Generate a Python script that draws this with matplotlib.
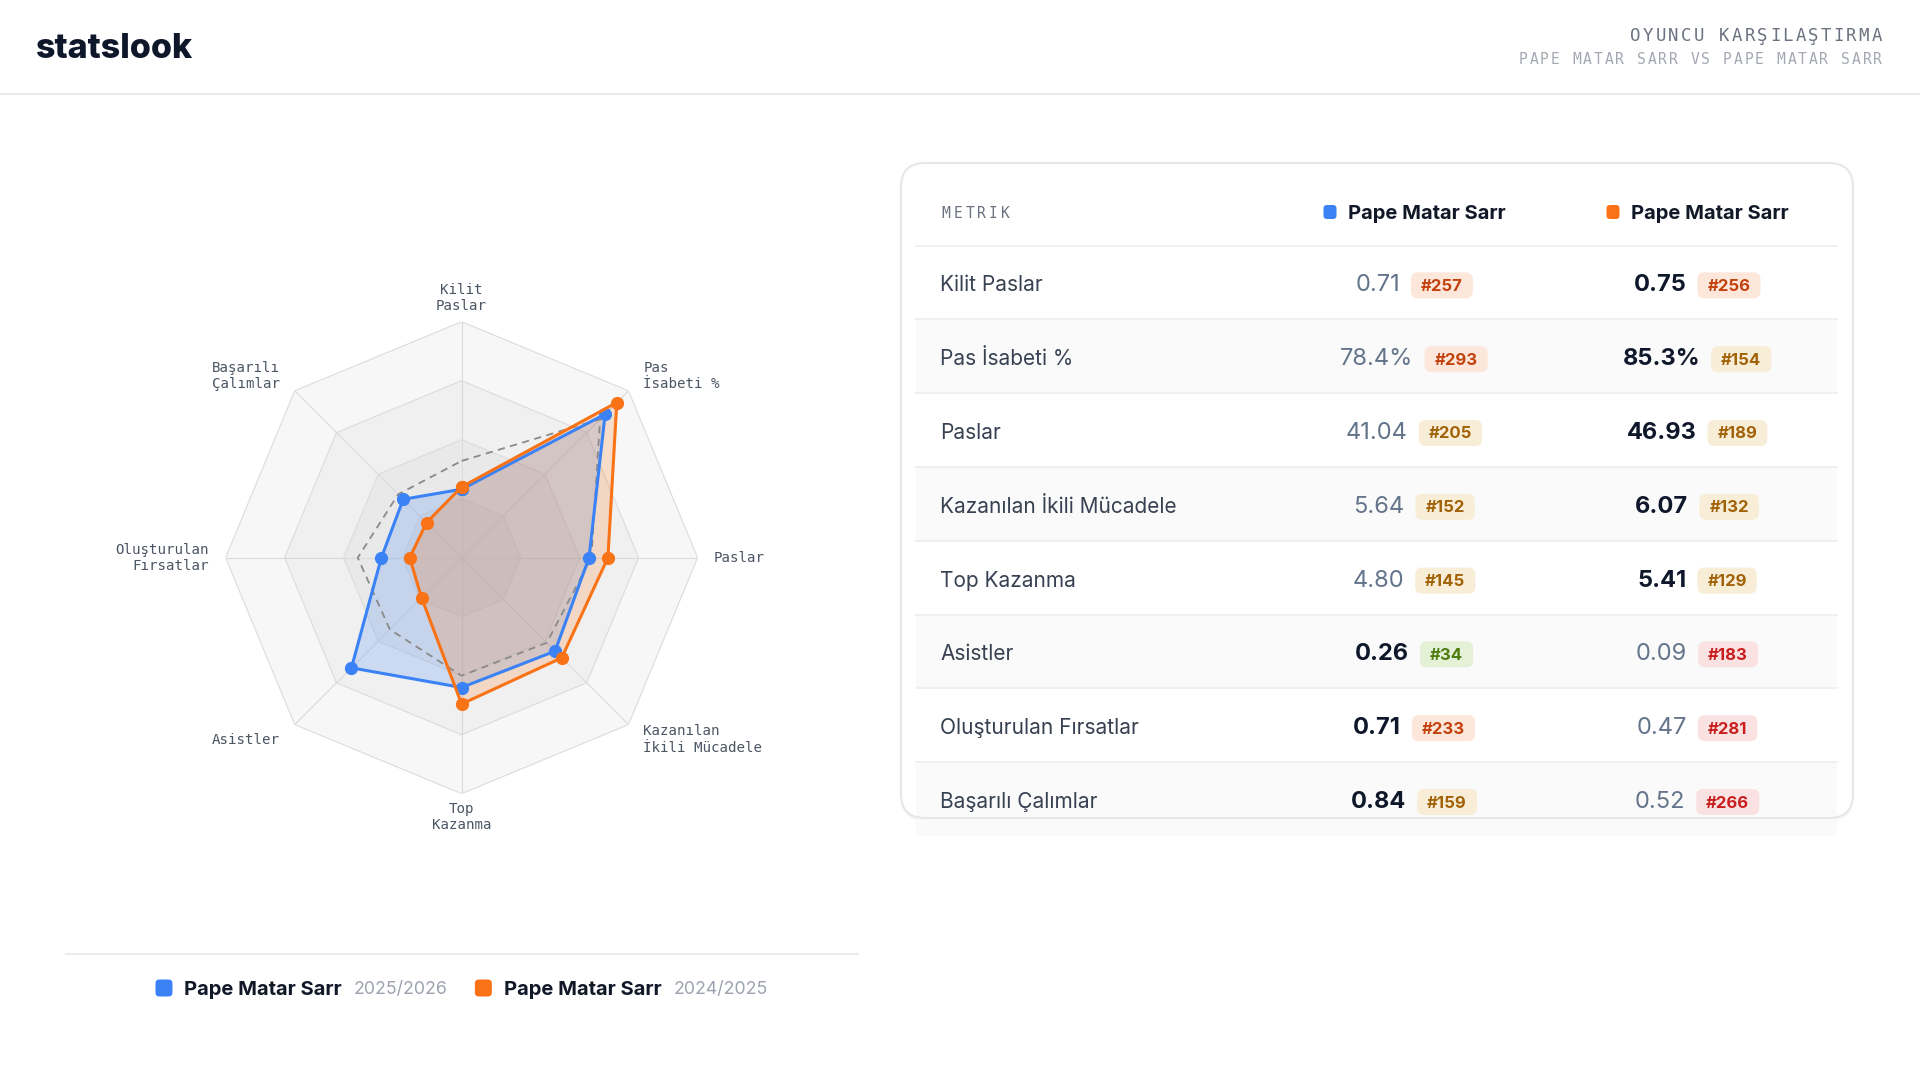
import numpy as np
import matplotlib
matplotlib.use("Agg")
import matplotlib.pyplot as plt
from matplotlib.patches import FancyBboxPatch, Rectangle

# ---- data -------------------------------------------------------------
metrics = ["Kilit Paslar", "Pas İsabeti %", "Paslar", "Kazanılan İkili Mücadele",
           "Top Kazanma", "Asistler", "Oluşturulan Fırsatlar", "Başarılı Çalımlar"]
axis_labels = ["Kilit\nPaslar", "Pas\nİsabeti %", "Paslar", "Kazanılan\nİkili Mücadele",
               "Top\nKazanma", "Asistler", "Oluşturulan\nFırsatlar", "Başarılı\nÇalımlar"]
players = ["Pape Matar Sarr", "Pape Matar Sarr"]
seasons = ["2025/2026", "2024/2025"]

# normalised radar values (0-1)
radar_a = [0.29, 0.86, 0.54, 0.56, 0.55, 0.66, 0.34, 0.35]
radar_b = [0.30, 0.93, 0.62, 0.60, 0.62, 0.24, 0.22, 0.21]
radar_avg = [0.41, 0.83, 0.55, 0.51, 0.50, 0.43, 0.44, 0.38]

values_a = ["0.71", "78.4%", "41.04", "5.64", "4.80", "0.26", "0.71", "0.84"]
values_b = ["0.75", "85.3%", "46.93", "6.07", "5.41", "0.09", "0.47", "0.52"]
ranks_a = [257, 293, 205, 152, 145, 34, 233, 159]
ranks_b = [256, 154, 189, 132, 129, 183, 281, 266]
tiers_a = ["orange", "orange", "amber", "amber", "amber", "green", "orange", "amber"]
tiers_b = ["orange", "amber", "amber", "amber", "amber", "red", "red", "red"]

BLUE = "#3b82f6"
ORANGE = "#f97316"
tier_colors = {
    "green": ("#4d7c0f", "#e5f1d7"),
    "amber": ("#a16207", "#f8eed7"),
    "orange": ("#c2410c", "#fde6da"),
    "red": ("#c81e1e", "#fbe2e2"),
}
SANS = ["Inter", "DejaVu Sans"]
MONO = ["DejaVu Sans Mono"]

W, H = 1920, 1080
fig = plt.figure(figsize=(19.2, 10.8), dpi=100)
fig.patch.set_facecolor("white")
ax = fig.add_axes([0, 0, 1, 1])
ax.set_xlim(0, W)
ax.set_ylim(H, 0)
ax.axis("off")
renderer = fig.canvas.get_renderer()


def width_of(t):
    return t.get_window_extent(renderer=renderer).width


def spaced(x_right, y, s, pitch, size, color):
    # monospace text with letter spacing, right aligned
    n = len(s)
    for i, ch in enumerate(s):
        x = x_right - (n - i - 0.5) * pitch
        ax.text(x, y, ch, ha="center", va="center", fontsize=size,
                family=MONO, color=color)


# ---- header -----------------------------------------------------------
ax.text(36, 49, "statslook", ha="left", va="center", fontsize=24.5,
        fontweight="heavy", family=SANS, color="#0f172a")
spaced(1883, 36, "OYUNCU KARŞILAŞTIRMA", 12.7, 12.5, "#6b7280")
spaced(1883, 59, "PAPE MATAR SARR VS PAPE MATAR SARR", 10.75, 10.5, "#a3a8b3")
ax.plot([0, W], [94, 94], color="#ebebeb", lw=1.5)

# ---- radar ------------------------------------------------------------
cx, cy, R = 461.6, 557.7, 236
pax = fig.add_axes([(cx - R) / W, 1 - (cy + R) / H, 2 * R / W, 2 * R / H],
                   projection="polar")
pax.set_theta_offset(np.pi / 2)
pax.set_theta_direction(-1)
pax.axis("off")
pax.set_ylim(0, 1)

angles = np.linspace(0, 2 * np.pi, len(metrics), endpoint=False)
closed = np.append(angles, angles[0])

ring_levels = [1.0, 0.75, 0.5, 0.25]
ring_fill = ["#f7f7f7", "#f0f0f0", "#e9e9e9", "#e3e3e3"]
for lvl, col in zip(ring_levels, ring_fill):
    pax.fill(closed, [lvl] * len(closed), color=col, lw=0, zorder=0)
    pax.plot(closed, [lvl] * len(closed), color="#dcdcdc", lw=0.8, zorder=1)
for a in angles:
    pax.plot([a, a], [0, 1], color="#dadada", lw=0.8, zorder=1)


def close(v):
    return list(v) + [v[0]]


pax.fill(closed, close(radar_a), color=BLUE, alpha=0.2, lw=0, zorder=2)
pax.fill(closed, close(radar_b), color=ORANGE, alpha=0.2, lw=0, zorder=2)
pax.plot(closed, close(radar_avg), color="#8a8a8a", lw=1.3, ls=(0, (4, 3)), zorder=3)
pax.plot(closed, close(radar_a), color=BLUE, lw=2.2, marker="o", ms=8.5, zorder=4)
pax.plot(closed, close(radar_b), color=ORANGE, lw=2.2, marker="o", ms=8.5, zorder=5)

label_pos = [(1.1, "center"), (1.09, "left"), (1.07, "left"), (1.09, "left"),
             (1.1, "center"), (1.09, "right"), (1.07, "right"), (1.09, "right")]
for a, lab, (r, ha) in zip(angles, axis_labels, label_pos):
    pax.text(a, r, lab, ha=ha, va="center", multialignment=ha, fontsize=10.2,
             family=MONO, color="#4b5563", linespacing=1.2, clip_on=False)

# ---- legend under radar ----------------------------------------------
ax.plot([66, 858], [954, 954], color="#ececec", lw=1.5)
items = []
for name, season, col in zip(players, seasons, [BLUE, ORANGE]):
    t1 = ax.text(0, 990, name, ha="left", va="center", fontsize=14.5,
                 fontweight="bold", family=SANS, color="#111827")
    t2 = ax.text(0, 990, season, ha="left", va="center", fontsize=12.8,
                 family=SANS, color="#9ca3af")
    items.append((col, t1, t2))
sq, g1, g2, g3 = 17, 12, 12, 27
total = sum(sq + g1 + width_of(t1) + g2 + width_of(t2) for _, t1, t2 in items) + g3
x = cx - total / 2
for col, t1, t2 in items:
    ax.add_patch(FancyBboxPatch((x, 988 - sq / 2), sq, sq,
                                boxstyle="round,pad=0,rounding_size=4",
                                color=col, lw=0))
    x += sq + g1
    t1.set_x(x)
    x += width_of(t1) + g2
    t2.set_x(x)
    x += width_of(t2) + g3

# ---- table card -------------------------------------------------------
card_x, card_y, card_w, card_h = 901, 163, 952, 655
ax.add_patch(FancyBboxPatch((card_x, card_y + 3), card_w, card_h,
                            boxstyle="round,pad=0,rounding_size=24",
                            fc="#000000", alpha=0.04, lw=0, zorder=0))
ax.add_patch(FancyBboxPatch((card_x, card_y), card_w, card_h,
                            boxstyle="round,pad=0,rounding_size=24",
                            fc="white", ec="none", zorder=1))

row_x0, row_x1 = 916, 1837
row_top, row_h = 245.5, 73.8
col_centers = [1414, 1697]

# column headers
hy = 213
mx = 940
for i, ch in enumerate("METRIK"):
    ax.text(mx + (i + 0.5) * 11.8, hy, ch, ha="center", va="center",
            fontsize=10.5, family=MONO, color="#6b7280", zorder=6)
for name, col, dx in zip(players, [BLUE, ORANGE], [1330, 1613]):
    ax.add_patch(FancyBboxPatch((dx - 6.5, hy - 8), 13, 14,
                                boxstyle="round,pad=0,rounding_size=3.5",
                                color=col, lw=0, zorder=6))
    ax.text(dx + 18, hy + 1, name, ha="left", va="center", fontsize=14.5,
            fontweight="bold", family=SANS, color="#111827", zorder=6)

n = len(metrics)
for i in range(n):
    y0 = row_top + i * row_h
    yc = y0 + row_h / 2
    if i % 2 == 1:
        ax.add_patch(Rectangle((row_x0, y0), row_x1 - row_x0, row_h,
                               fc="#fafafa", lw=0, zorder=2))
    ax.plot([row_x0, row_x1], [y0, y0], color="#efefef", lw=1.3, zorder=3)
    ax.text(940, yc + 3, metrics[i], ha="left", va="center", fontsize=15,
            family=SANS, color="#374151", zorder=6)

    va_num = float(values_a[i].rstrip("%"))
    vb_num = float(values_b[i].rstrip("%"))
    cells = [(values_a[i], ranks_a[i], tiers_a[i], va_num >= vb_num),
             (values_b[i], ranks_b[i], tiers_b[i], vb_num > va_num)]
    for (val, rank, tier, best), ccx in zip(cells, col_centers):
        tv = ax.text(0, yc + 3, val, ha="left", va="center", fontsize=17,
                     fontweight="bold" if best else "normal", family=SANS,
                     color="#0f172a" if best else "#64748b", zorder=6)
        fg, bg = tier_colors[tier]
        tb = ax.text(0, yc + 4, f"#{rank}", ha="center", va="center",
                     fontsize=12, fontweight="bold", family=SANS, color=fg,
                     zorder=7)
        wv = width_of(tv)
        bw = width_of(tb) + 20
        gap = 11
        left = ccx - (wv + gap + bw) / 2
        tv.set_x(left)
        bx = left + wv + gap
        ax.add_patch(FancyBboxPatch((bx, yc - 10), bw, 26,
                                    boxstyle="round,pad=0,rounding_size=7",
                                    fc=bg, lw=0, zorder=6))
        tb.set_x(bx + bw / 2)

# card border drawn on top
ax.add_patch(FancyBboxPatch((card_x, card_y), card_w, card_h,
                            boxstyle="round,pad=0,rounding_size=24",
                            fc="none", ec="#e5e7eb", lw=1.5, zorder=8))

fig.savefig("out.png", dpi=100, facecolor="white")
